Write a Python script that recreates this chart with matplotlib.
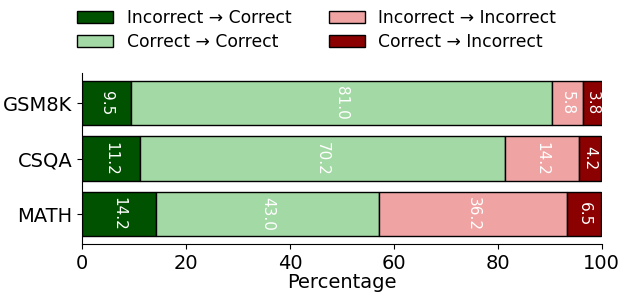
import matplotlib.pyplot as plt
import numpy as np

datasets = ['GSM8K', 'CSQA', 'MATH']
inc_to_cor = [9.5, 11.2, 14.2]
cor_to_cor = [81.0, 70.2, 43.0]
inc_to_inc = [5.8, 14.2, 36.2]
cor_to_inc = [3.8, 4.2, 6.5]

series = [
    ('Incorrect → Correct', inc_to_cor, '#005200'),
    ('Correct → Correct', cor_to_cor, '#a3d9a5'),
    ('Incorrect → Incorrect', inc_to_inc, '#f0a3a3'),
    ('Correct → Incorrect', cor_to_inc, '#8b0000'),
]

fig = plt.figure(figsize=(6.21, 2.92), dpi=100)
ax = fig.add_axes([0.132, 0.164, 0.837, 0.586])

y = np.arange(len(datasets))
left = np.zeros(len(datasets))
handles = []
for name, vals, color in series:
    vals = np.array(vals)
    bars = ax.barh(y, vals, left=left, color=color, edgecolor='black',
                   linewidth=1, height=0.8, label=name)
    handles.append(bars)
    for yi, l, v in zip(y, left, vals):
        ax.text(l + v / 2, yi, f'{v:.1f}', rotation=270, color='white',
                ha='center', va='center', fontsize=11)
    left += vals

ax.set_yticks(y)
ax.set_yticklabels(datasets, fontsize=14)
ax.invert_yaxis()
ax.set_xlim(0, 100)
ax.tick_params(axis='x', labelsize=14)
ax.set_xlabel('Percentage', fontsize=14, labelpad=0)
ax.spines['top'].set_visible(False)
ax.spines['right'].set_visible(False)

fig.legend(handles=handles, loc='upper center', bbox_to_anchor=(0.51, 1.022),
           ncol=2, frameon=False, fontsize=12.3, handlelength=2.1,
           columnspacing=2.2, handletextpad=0.8, labelspacing=0.35)

fig.savefig('out.png', dpi=100)
